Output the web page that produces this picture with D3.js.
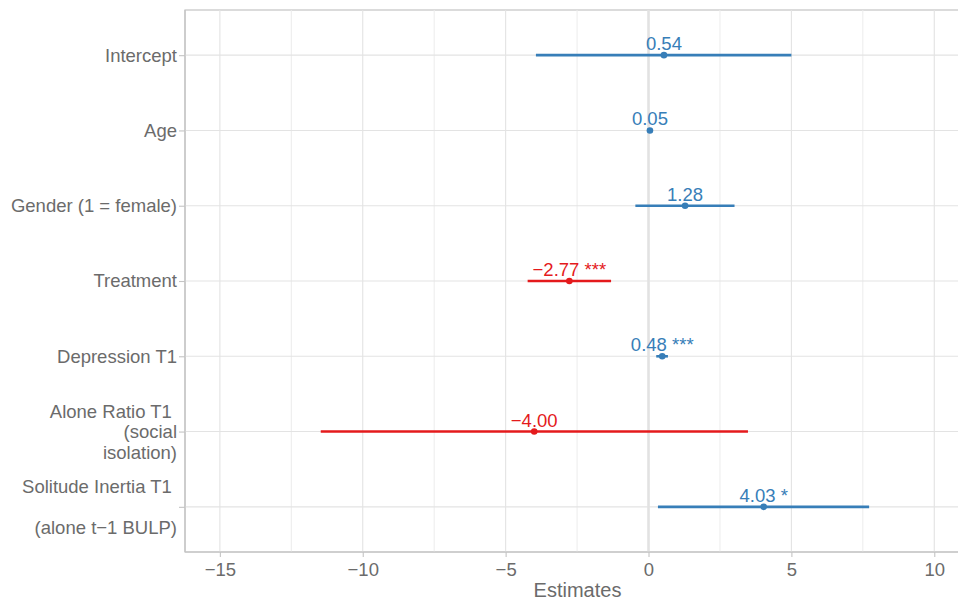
<!DOCTYPE html>
<html>
<head>
<meta charset="utf-8">
<script src="https://cdn.jsdelivr.net/npm/d3@7"></script>
<style>
  html, body { margin: 0; padding: 0; background: #fff; }
  svg { display: block; font-family: "Liberation Sans", Arial, sans-serif; }
</style>
</head>
<body>
<svg id="chart" width="958" height="600"></svg>
<script>
// Model terms (top to bottom); multi-line labels split on "\n"
const terms = [
  "Intercept",
  "Age",
  "Gender (1 = female)",
  "Treatment",
  "Depression T1",
  "Alone Ratio T1 \n(social\nisolation)",
  "Solitude Inertia T1 \n\n(alone t\u22121 BULP)"
];
const estimates = [0.54, 0.05, 1.28, -2.77, 0.48, -4.00, 4.03];
const ciLow     = [-3.94, -0.02, -0.46, -4.23, 0.27, -11.47, 0.33];
const ciHigh    = [5.00, 0.12, 3.01, -1.31, 0.68, 3.48, 7.72];
const stars     = ["", "", "", " ***", " ***", "", " *"];
const xTicks    = [-15, -10, -5, 0, 5, 10];
const xMinor    = [-12.5, -7.5, -2.5, 2.5, 7.5];

const posColor = "#377eb8";
const negColor = "#e41a1c";
const textGrey = "#6b6b6b";

const svg = d3.select("#chart");
const panel = { left: 185, right: 970, top: 10, bottom: 552 };

const x = d3.scaleLinear()
  .domain([-16.22, 11.25])
  .range([panel.left, panel.right]);

const y = d3.scalePoint()
  .domain(terms)
  .range([panel.top, panel.bottom])
  .padding(0.6);

const fmt = d3.format(".2f");

// Panel border
svg.append("rect")
  .attr("x", panel.left).attr("y", panel.top)
  .attr("width", panel.right - panel.left)
  .attr("height", panel.bottom - panel.top)
  .attr("fill", "none")
  .attr("stroke", "#c4c4c4")
  .attr("stroke-width", 1.2);

const grid = svg.append("g");

// Minor vertical gridlines
grid.selectAll(".minor").data(xMinor).join("line")
  .attr("x1", d => x(d)).attr("x2", d => x(d))
  .attr("y1", panel.top).attr("y2", panel.bottom)
  .attr("stroke", "#ececec").attr("stroke-width", 1);

// Major vertical gridlines
grid.selectAll(".major").data(xTicks.filter(d => d !== 0)).join("line")
  .attr("x1", d => x(d)).attr("x2", d => x(d))
  .attr("y1", panel.top).attr("y2", panel.bottom)
  .attr("stroke", "#e3e3e3").attr("stroke-width", 1.1);

// Horizontal gridlines per term
grid.selectAll(".hgrid").data(terms).join("line")
  .attr("x1", panel.left).attr("x2", panel.right)
  .attr("y1", d => y(d)).attr("y2", d => y(d))
  .attr("stroke", "#e3e3e3").attr("stroke-width", 1.1);

// Zero reference line
grid.append("line")
  .attr("x1", x(0)).attr("x2", x(0))
  .attr("y1", panel.top).attr("y2", panel.bottom)
  .attr("stroke", "#e2e2e2").attr("stroke-width", 2.6);

// Left and bottom axis lines over the gridlines
svg.append("line")
  .attr("x1", panel.left).attr("x2", panel.left)
  .attr("y1", panel.top).attr("y2", panel.bottom)
  .attr("stroke", "#c4c4c4").attr("stroke-width", 1.2);
svg.append("line")
  .attr("x1", panel.left).attr("x2", panel.right)
  .attr("y1", panel.bottom).attr("y2", panel.bottom)
  .attr("stroke", "#c4c4c4").attr("stroke-width", 1.2);

// Bottom axis
const xAxis = d3.axisBottom(x)
  .tickValues(xTicks)
  .tickSize(5)
  .tickPadding(6)
  .tickFormat(d3.format("d"));
const gx = svg.append("g")
  .attr("transform", `translate(0,${panel.bottom})`)
  .call(xAxis);
gx.select(".domain").remove();
gx.selectAll(".tick line").attr("stroke", "#c4c4c4").attr("stroke-width", 1.1);
gx.selectAll(".tick text")
  .attr("fill", textGrey)
  .attr("font-size", 18.5)
  .attr("font-family", "'Liberation Sans', Arial, sans-serif");

// Left axis (ticks only; labels drawn as multi-line text)
const yAxis = d3.axisLeft(y).tickSize(6).tickFormat("");
const gy = svg.append("g")
  .attr("transform", `translate(${panel.left},0)`)
  .call(yAxis);
gy.select(".domain").remove();
gy.selectAll(".tick line").attr("stroke", "#c4c4c4").attr("stroke-width", 1.1);

const lineH = 20.5;
const yLabels = svg.append("g");
terms.forEach(t => {
  const lines = t.split("\n");
  const txt = yLabels.append("text")
    .attr("x", 177)
    .attr("y", y(t))
    .attr("text-anchor", "end")
    .attr("fill", textGrey)
    .attr("font-size", 18.5)
    .attr("xml:space", "preserve");
  const offset = -(lines.length - 1) / 2 * lineH;
  lines.forEach((ln, i) => {
    txt.append("tspan")
      .attr("x", 177)
      .attr("y", y(t) + offset + i * lineH)
      .attr("dy", "0.35em")
      .text(ln);
  });
});

// Estimates with confidence intervals
const rows = terms.map((t, i) => ({
  term: t, est: estimates[i], lo: ciLow[i], hi: ciHigh[i], star: stars[i]
}));
const colorOf = d => d.est < 0 ? negColor : posColor;

const marks = svg.append("g");
marks.selectAll(".ci").data(rows).join("line")
  .attr("x1", d => x(d.lo)).attr("x2", d => x(d.hi))
  .attr("y1", d => y(d.term)).attr("y2", d => y(d.term))
  .attr("stroke", colorOf)
  .attr("stroke-width", 2.6);

marks.selectAll(".pt").data(rows).join("circle")
  .attr("cx", d => x(d.est))
  .attr("cy", d => y(d.term))
  .attr("r", 3.3)
  .attr("fill", colorOf);

marks.selectAll(".val").data(rows).join("text")
  .attr("x", d => x(d.est))
  .attr("y", d => y(d.term) - 5)
  .attr("text-anchor", "middle")
  .attr("fill", colorOf)
  .attr("font-size", 18.5)
  .text(d => fmt(d.est) + d.star);

// Axis title
svg.append("text")
  .attr("x", (panel.left + panel.right) / 2)
  .attr("y", 597)
  .attr("text-anchor", "middle")
  .attr("fill", textGrey)
  .attr("font-size", 20)
  .text("Estimates");
</script>
</body>
</html>
